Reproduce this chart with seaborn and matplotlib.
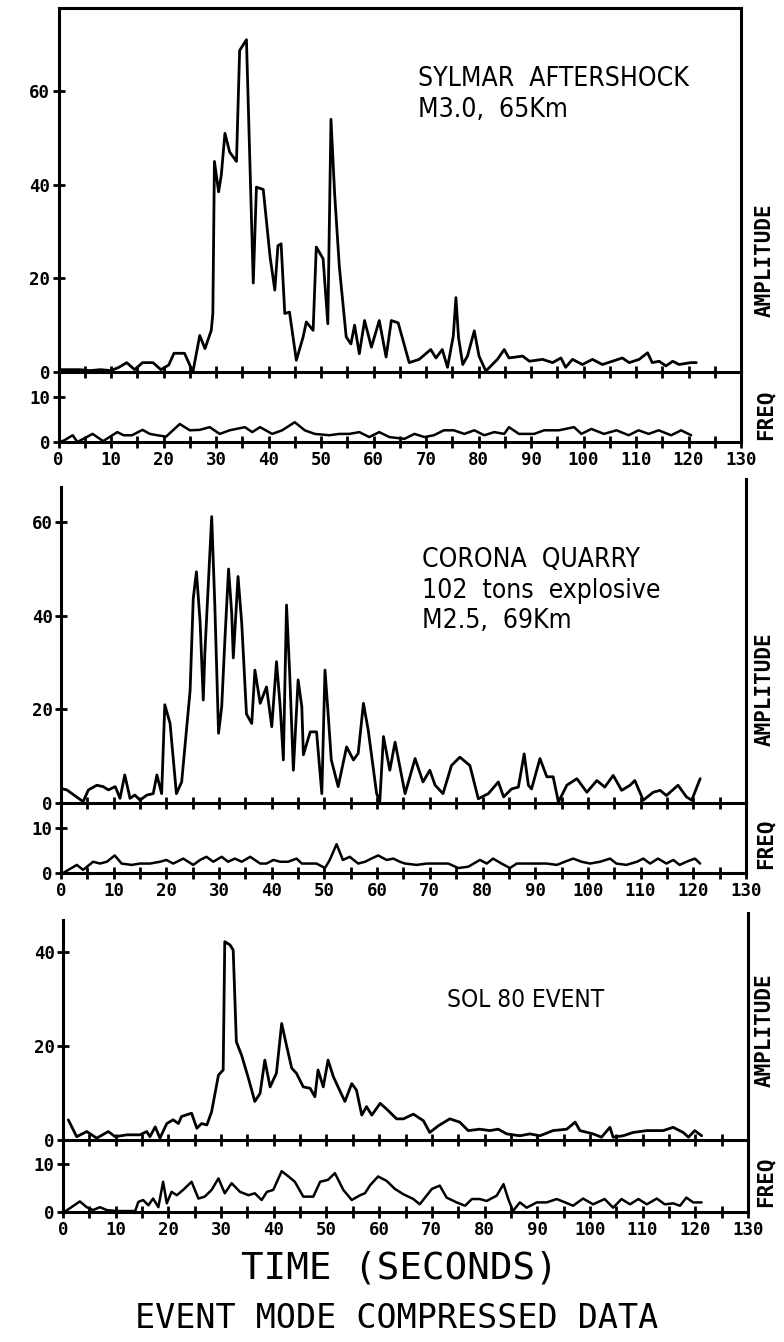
import numpy as np
import matplotlib
matplotlib.use("Agg")
import matplotlib.pyplot as plt
from matplotlib import font_manager as fm
import seaborn as sns

# ---------------------------------------------------------------------------
# Event-mode compressed data: amplitude and dominant frequency vs. time (s)
# ---------------------------------------------------------------------------

# Sylmar aftershock, M3.0 at 65 km
sylmar_amp_t = [0, 2, 4, 6, 8, 10, 11.5, 13, 14.5, 16, 18, 19.5, 21, 22, 24, 25.6,
                26.9, 27.9, 29.1, 29.4, 29.7, 30.5, 31.0, 31.7, 32.6, 33.9, 34.5, 35.8,
                37.1, 37.7, 39.0, 40.3, 41.2, 41.8, 42.4, 43.1, 44.0, 45.3, 46.6, 47.2,
                48.5, 49.1, 50.4, 51.3, 51.9, 52.6, 53.5, 54.8, 55.7, 56.4, 57.3, 58.3,
                59.6, 61.1, 62.4, 63.4, 64.7, 66.8, 68.7, 70.9, 71.9, 73.1, 74.1, 75.2,
                75.7, 76.2, 77.0, 77.9, 79.2, 80.1, 81.4, 83.6, 84.9, 85.8, 88.4, 89.7,
                92.2, 94.1, 95.7, 96.6, 97.9, 99.8, 101.7, 103.6, 105.5, 107.4, 108.7,
                110.6, 112.2, 113.1, 114.4, 115.7, 117.0, 118.2, 120.4, 121.5]
sylmar_amp = [0.5, 0.5, 0.5, 0.3, 0.5, 0.3, 1.0, 2.0, 0.5, 2.0, 2.0, 0.5, 1.5, 4.0, 4.0, 0.0,
              7.8, 5.0, 8.9, 12.5, 45.0, 38.5, 42.0, 51.0, 47.0, 45.0, 68.7, 71.0,
              19.0, 39.5, 39.0, 24.6, 17.5, 27.0, 27.4, 12.5, 12.8, 2.5, 7.5, 10.7,
              8.9, 26.7, 24.2, 10.3, 54.0, 38.0, 22.4, 7.5, 6.0, 10.0, 3.9, 11.0,
              5.3, 11.0, 3.2, 11.0, 10.5, 2.0, 2.7, 4.8, 3.0, 4.8, 1.0, 7.7,
              15.9, 7.3, 1.6, 3.4, 8.8, 3.4, 0.2, 2.7, 4.8, 3.0, 3.4, 2.3,
              2.7, 2.0, 3.0, 1.0, 2.7, 1.6, 2.7, 1.6, 2.3, 3.0, 2.0,
              2.7, 4.1, 2.0, 2.3, 1.3, 2.3, 1.6, 2.0, 2.0]
sylmar_freq_t = [0, 1, 2.7, 3.6, 6.5, 8.5, 11.2, 12.4, 14, 16, 17.4, 18.8, 20.5, 23.1, 25,
                 26.9, 28.8, 30.7, 32.6, 35.5, 36.9, 38.4, 40.7, 42.6, 45, 46.9, 48.8,
                 51.6, 53.5, 55.4, 57.3, 59.2, 61.1, 63, 65.9, 67.8, 69.7, 71.5, 73.4,
                 75.3, 77.3, 79.2, 81.1, 83, 84.9, 85.8, 87.7, 90.6, 92.5, 95.3, 98.2,
                 99.6, 101.5, 103.9, 106.3, 108.6, 110.5, 112.4, 114.3, 116.7, 118.6, 120.5]
sylmar_freq = [0.0, 0.3, 1.5, 0.0, 1.8, 0.2, 2.2, 1.5, 1.5, 2.7, 1.8, 1.5, 1.2, 4.0, 2.6,
               2.7, 3.3, 1.8, 2.6, 3.3, 2.2, 3.3, 1.8, 2.6, 4.4, 2.6, 1.8,
               1.5, 1.8, 1.8, 2.2, 1.1, 2.2, 1.1, 0.7, 1.8, 1.1, 1.5, 2.6,
               2.6, 1.8, 2.6, 1.5, 2.2, 1.8, 3.3, 1.8, 1.8, 2.6, 2.6, 3.3,
               1.8, 2.9, 1.8, 2.6, 1.5, 2.6, 1.8, 2.6, 1.5, 2.6, 1.5]

# Corona quarry blast, 102 tons explosive, M2.5 at 69 km
corona_amp_t = [0, 1.1, 4.2, 5.2, 6.8, 8, 9, 10.3, 11.2, 12.1, 13.1, 14, 15, 16.3, 17.5,
                18.2, 19.1, 19.7, 20.7, 21.9, 22.9, 24.5, 25.1, 25.7, 26.4, 27, 27.3,
                28.6, 29.2, 29.9, 30.5, 31.1, 31.8, 32.4, 32.7, 33.6, 34.3, 35.2, 36.2,
                36.8, 37.8, 39, 40, 40.9, 41.6, 42.2, 42.8, 43.4, 44.1, 45, 45.7, 46,
                47.3, 48.5, 49.5, 50.1, 50.7, 51.3, 52.6, 54.2, 55.5, 56.4, 57.4, 58.3,
                59.9, 60.5, 61.2, 62.4, 63.4, 65.3, 67.2, 68.7, 70, 71, 72.5, 74.1, 75.7,
                77.6, 79.2, 81.1, 83, 84, 85.5, 86.8, 87.9, 88.7, 89.3, 90.9, 92.2, 93.4,
                94.4, 96, 97.9, 99.8, 101.7, 103.2, 104.8, 106.4, 108, 108.9, 110.5,
                112.4, 113.7, 114.9, 117.1, 118.7, 119.7, 121.3]
corona_amp = [3.1, 2.8, 0.3, 2.8, 3.8, 3.5, 2.8, 3.5, 1.0, 6.0, 1.0, 1.7, 0.6, 1.7, 2.0,
              6.0, 2.0, 21.0, 17.0, 2.0, 4.5, 24.0, 43.7, 49.4, 38.7, 22.0, 32.0,
              61.2, 42.0, 14.9, 20.6, 34.8, 50.0, 40.5, 31.0, 48.4, 38.4, 19.0, 17.0,
              28.4, 21.3, 24.8, 16.3, 30.2, 20.6, 9.2, 42.3, 27.7, 7.0, 26.3, 20.6, 10.3,
              15.2, 15.2, 2.0, 28.4, 19.0, 9.2, 3.5, 12.0, 9.2, 10.6, 21.3, 15.6,
              2.0, 0.3, 14.2, 7.0, 13.0, 2.0, 9.5, 4.5, 7.0, 3.8, 2.0, 8.0, 9.8,
              8.0, 0.9, 2.0, 4.5, 1.3, 3.0, 3.4, 10.5, 3.8, 3.0, 9.5, 5.6, 5.6,
              0.2, 3.8, 5.2, 2.3, 4.8, 3.4, 5.9, 2.7, 3.8, 4.8, 0.6,
              2.3, 2.7, 1.6, 3.8, 1.3, 0.6, 5.2]
corona_freq_t = [0.4, 3, 4.2, 6.1, 7.4, 8.7, 10.2, 11.5, 13.4, 15, 16.9, 18.8, 20, 21.3,
                 23.2, 25.1, 26.4, 27.6, 28.9, 30.5, 31.7, 33, 34.3, 35.9, 37.8, 39,
                 40.3, 41.6, 43.1, 44.7, 45.7, 48.5, 50.1, 51, 52.3, 53.5, 54.8, 56.4,
                 57.7, 58.9, 60.2, 61.8, 63.1, 64.3, 65.3, 67.5, 69.4, 71.3, 73.5, 75.4,
                 77.3, 79.5, 80.8, 82, 83.6, 85.2, 86.5, 88.4, 90.3, 92.2, 94.1, 95.6,
                 97.2, 98.8, 100.4, 102.3, 104.2, 105.4, 107.3, 109.3, 110.5, 111.8,
                 113.3, 114.9, 116.2, 117.4, 118.7, 120.3, 121.3]
corona_freq = [0.0, 1.8, 0.7, 2.5, 2.1, 2.5, 3.9, 2.1, 1.8, 2.1, 2.1, 2.5, 2.9, 2.1,
               3.2, 1.8, 2.9, 3.6, 2.5, 3.6, 2.5, 3.2, 2.5, 3.6, 2.1, 2.1,
               2.9, 2.5, 2.5, 3.2, 2.1, 2.1, 1.1, 2.9, 6.4, 2.9, 3.6, 2.1,
               2.5, 3.2, 3.9, 2.9, 3.2, 2.5, 2.1, 1.8, 2.1, 2.1, 2.1, 1.1,
               1.4, 2.9, 2.1, 3.2, 2.1, 1.1, 2.1, 2.1, 2.1, 2.1, 1.8, 2.5,
               3.2, 2.5, 2.1, 2.5, 3.2, 2.1, 1.8, 2.5, 3.2, 2.1,
               3.2, 2.1, 2.9, 1.8, 2.5, 3.2, 2.1]

# SOL 80 event
sol80_amp_t = [1.0, 2.6, 4.5, 6.4, 8.6, 9.9, 12.1, 14.6, 15.9, 16.5, 17.5, 18.4, 19.7,
               20.9, 21.9, 22.5, 24.4, 25.4, 26.3, 27.3, 28.2, 29.5, 30.4, 30.7, 31.7,
               32.3, 32.9, 33.9, 35.2, 36.4, 37.4, 38.3, 39.3, 40.5, 41.5, 42.4, 43.4,
               44.3, 45.6, 46.9, 47.8, 48.4, 49.4, 50.3, 51.3, 52.2, 53.5, 54.8, 55.7,
               56.7, 57.6, 58.6, 60.2, 61.5, 63.3, 64.6, 66.5, 68.4, 69.6, 71.2, 73.4,
               75.3, 76.9, 79.1, 81, 82.6, 84.2, 86.7, 88.6, 90.5, 93, 95.6, 97.2, 98.1,
               100.6, 102.2, 103.8, 104.4, 106.3, 108.2, 110.8, 113.9, 115.8, 117.7,
               118.7, 119.9, 121.2]
sol80_amp = [4.3, 0.7, 1.8, 0.4, 1.8, 0.7, 1.1, 1.1, 1.8, 0.7, 2.8, 0.4, 3.5,
             4.3, 3.5, 5.0, 5.7, 2.5, 3.5, 3.2, 6.0, 13.8, 14.9, 42.2, 41.5,
             40.4, 20.9, 18.0, 13.1, 8.2, 9.9, 17.0, 11.3, 14.2, 24.8, 20.2, 15.3,
             14.2, 11.3, 11.0, 9.2, 14.9, 11.3, 17.0, 13.5, 11.3, 8.2, 12.0, 10.6,
             5.3, 7.1, 5.3, 7.8, 6.5, 4.5, 4.5, 5.5, 4.1, 1.6, 3.0, 4.5,
             3.8, 2.0, 2.3, 2.0, 2.3, 1.3, 0.9, 1.3, 0.9, 2.0, 2.3, 3.8, 2.0,
             1.3, 0.6, 2.7, 0.6, 0.9, 1.6, 2.0, 2.0, 2.7, 1.6,
             0.6, 2.0, 0.9]
sol80_freq_t = [0.4, 1.6, 3.2, 4.5, 5.7, 7, 8.3, 10.2, 12.1, 13.7, 14.3, 15.2, 16.2, 17.1,
                18.1, 19, 19.7, 20.6, 21.6, 22.8, 24.4, 25.7, 26.9, 28.2, 29.5, 30.7, 32,
                33.6, 35.2, 36.4, 37.7, 38.7, 39.9, 41.5, 42.8, 44, 45.6, 47.5, 48.8,
                50.3, 51.6, 53.2, 54.8, 56.4, 57.3, 58.3, 59.8, 61.4, 63, 64.6, 66.5,
                67.7, 70, 71.5, 72.8, 74.7, 76.3, 77.6, 79.1, 80.4, 82.3, 83.6, 84.5,
                85.4, 86.7, 88, 89.9, 91.8, 93.7, 95.3, 96.8, 98.7, 100.6, 102.8, 104.4,
                106, 107.6, 109.2, 110.8, 112.7, 114.2, 115.8, 117.1, 118.3, 119.6, 121.2]
sol80_freq = [0.1, 1.0, 2.2, 1.0, 0.4, 1.0, 0.4, 0.2, 0.2, 0.2, 2.1, 2.5, 1.4, 2.8,
              1.0, 6.3, 1.8, 4.2, 3.5, 4.6, 6.3, 2.8, 3.2, 4.6, 7.0, 3.9, 6.0,
              4.2, 3.5, 3.9, 2.5, 4.2, 4.6, 8.5, 7.4, 6.3, 3.2, 3.2, 6.3,
              6.7, 8.1, 4.6, 2.5, 3.5, 3.9, 5.6, 7.4, 6.5, 4.8, 3.7, 2.7,
              1.6, 4.8, 5.5, 3.0, 2.0, 1.3, 2.7, 2.7, 2.3, 3.4, 5.8, 2.7,
              0.2, 2.0, 0.9, 2.0, 2.0, 2.7, 2.0, 1.3, 2.8, 1.6, 2.7, 0.9,
              2.7, 1.6, 2.7, 1.6, 2.8, 1.6, 1.8, 1.3, 3.0, 2.0, 2.0]

x_ticks = list(range(0, 131, 10))
notes = ["SYLMAR  AFTERSHOCK\nM3.0,  65Km",
         "CORONA  QUARRY\n102  tons  explosive\nM2.5,  69Km",
         "SOL 80 EVENT"]
amp_ticks = [[0, 20, 40, 60], [0, 20, 40, 60], [0, 20, 40]]
freq_ticks = [0, 10]

# ---------------------------------------------------------------------------
# Layout (pixel geometry of each stacked panel on a 784 x 1342 canvas)
# ---------------------------------------------------------------------------
W, H = 784, 1342
layout = [
    dict(left=58.5, right=741, top=8, spine_top=8, base=372, floor=442,
         amp_ppu=4.68, frq_ppu=4.5, boxed=True, note_xy=(418, 66), note_size=19,
         amp_lbl=260, frq_lbl=415),
    dict(left=61, right=746, top=479, spine_top=487, base=803, floor=873,
         amp_ppu=4.68, frq_ppu=4.5, boxed=False, note_xy=(422, 547), note_size=19,
         amp_lbl=689, frq_lbl=844),
    dict(left=63, right=748, top=913, spine_top=920, base=1140, floor=1212,
         amp_ppu=4.7, frq_ppu=4.8, boxed=False, note_xy=(447, 988), note_size=17.5,
         amp_lbl=1030, frq_lbl=1182),
]
series = [
    (sylmar_amp_t, sylmar_amp, sylmar_freq_t, sylmar_freq),
    (corona_amp_t, corona_amp, corona_freq_t, corona_freq),
    (sol80_amp_t, sol80_amp, sol80_freq_t, sol80_freq),
]

sns.set_theme(style="ticks")
plt.rcParams["font.family"] = ["DejaVu Sans Mono"]
plt.rcParams["font.weight"] = "bold"
for key in ("text.color", "axes.labelcolor", "xtick.color", "ytick.color",
            "axes.edgecolor"):
    plt.rcParams[key] = "black"


def note_font(size):
    """A regular-weight narrow sans face for the event captions."""
    order = ("Liberation", "DejaVu Sans", "Noto Sans", "Roboto", "Open Sans", "Lato")
    found = []
    for f in fm.fontManager.ttflist:
        w = f.weight if isinstance(f.weight, int) else fm.weight_dict.get(f.weight, 400)
        narrow = (f.stretch in ("condensed", "semi-condensed")
                  or "Narrow" in f.name or "Condensed" in f.name)
        if narrow and f.style == "normal" and 350 <= w <= 500 and "Mono" not in f.name:
            rank = next((i for i, p in enumerate(order) if f.name.startswith(p)), 99)
            found.append((rank, f.fname))
    if found:
        return fm.FontProperties(fname=sorted(found)[0][1], size=size)
    return fm.FontProperties(family="DejaVu Sans", weight="normal", size=size - 2.5)


LW_AXIS = 2.2
LW_AMP = 2.0
LW_FRQ = 1.8
TICK = dict(direction="inout", length=9, width=2, color="black")

fig = plt.figure(figsize=(W / 100, H / 100), dpi=100)
fig.patch.set_facecolor("white")


def fig_rect(left, right, top, bottom):
    return [left / W, 1 - bottom / H, (right - left) / W, (bottom - top) / H]


def style_axes(ax):
    ax.patch.set_visible(False)
    ax.set_xlim(0, 130)
    ax.set_xlabel("")
    ax.set_ylabel("")
    for sp in ax.spines.values():
        sp.set_color("black")
        sp.set_linewidth(LW_AXIS)
    ax.tick_params(axis="both", which="both", **TICK)
    ax.tick_params(axis="both", which="both", labelsize=12.5, pad=1.5,
                   top=False, right=False, labelcolor="black")


for geo, (at, av, ft, fv), yt, note in zip(layout, series, amp_ticks, notes):
    # amplitude trace
    ax_a = fig.add_axes(fig_rect(geo["left"], geo["right"], geo["top"], geo["base"]))
    sns.lineplot(x=at, y=av, ax=ax_a, color="black", linewidth=LW_AMP,
                 estimator=None, sort=False)
    style_axes(ax_a)
    ax_a.set_ylim(0, (geo["base"] - geo["top"]) / geo["amp_ppu"])
    ax_a.spines["left"].set_bounds(0, (geo["base"] - geo["spine_top"]) / geo["amp_ppu"])
    ax_a.spines["top"].set_visible(geo["boxed"])
    ax_a.set_xticks(np.arange(0, 131, 5))
    ax_a.tick_params(axis="x", labelbottom=False)
    ax_a.set_yticks(yt)
    ax_a.set_yticklabels([str(v) for v in yt])

    # frequency trace
    ax_f = fig.add_axes(fig_rect(geo["left"], geo["right"], geo["base"], geo["floor"]))
    sns.lineplot(x=ft, y=fv, ax=ax_f, color="black", linewidth=LW_FRQ,
                 estimator=None, sort=False)
    style_axes(ax_f)
    ax_f.set_ylim(0, (geo["floor"] - geo["base"]) / geo["frq_ppu"])
    ax_f.spines["top"].set_visible(False)
    ax_f.set_xticks(x_ticks)
    ax_f.set_xticklabels([str(v) for v in x_ticks])
    ax_f.set_xticks(np.arange(5, 131, 10), minor=True)
    ax_f.set_yticks(freq_ticks)
    ax_f.set_yticklabels([str(v) for v in freq_ticks])
    ax_f.tick_params(axis="x", which="major", pad=2)

    # event description
    fig.text(geo["note_xy"][0] / W, 1 - geo["note_xy"][1] / H, note,
             fontproperties=note_font(geo["note_size"]), ha="left", va="top",
             linespacing=1.23, color="black")

    # channel names on the right
    fig.text(765 / W, 1 - geo["amp_lbl"] / H, "AMPLITUDE", rotation=90,
             ha="center", va="center", fontsize=15, weight="bold")
    fig.text(765 / W, 1 - geo["frq_lbl"] / H, "FREQ", rotation=90,
             ha="center", va="center", fontsize=15, weight="bold")

fig.text(399 / W, 1 - 1268 / H, "TIME (SECONDS)", ha="center", va="center",
         fontsize=27, weight="normal")
fig.text(397 / W, 1 - 1318 / H, "EVENT MODE COMPRESSED DATA", ha="center",
         va="center", fontsize=24, weight="normal")

fig.savefig("out.png", dpi=100, facecolor="white")
